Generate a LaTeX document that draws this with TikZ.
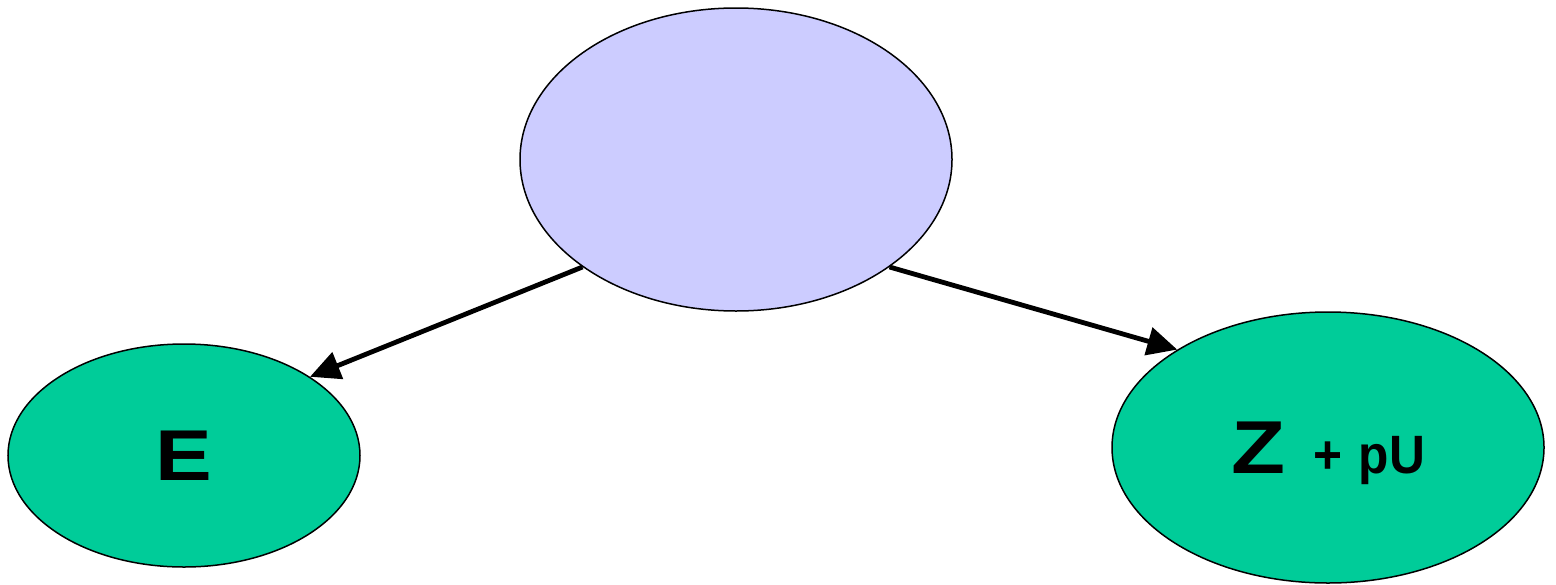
\documentclass[tikz,border=0pt]{standalone}
\usepackage{fontspec}
\usepackage{tikz}
\usetikzlibrary{arrows.meta,shapes.geometric}
\newfontfamily\diagfont[FakeStretch=1.18]{Liberation Sans}
\newfontfamily\subfont[FakeStretch=0.92]{Liberation Sans}
\definecolor{rootblue}{RGB}{204,204,255}
\definecolor{leafgreen}{RGB}{0,204,153}

\begin{document}
\begin{tikzpicture}[x=0.5pt,y=-0.5pt, every node/.style={font=\diagfont\bfseries},
    blob/.style={ellipse,draw=black,line width=0.75pt,inner sep=0pt},
    link/.style={-{Triangle[length=15pt,width=14pt]},line width=2.4pt}]
    \useasboundingbox (0,0) rectangle (1556,584);
    \node[blob,fill=rootblue,minimum width=216pt,minimum height=151.5pt] (root) at (736,159.5) {};
    \node[blob,fill=leafgreen,minimum width=176pt,minimum height=111.5pt] (e) at (184,455.5)
      {\fontsize{36}{36}\selectfont E};
    \node[blob,fill=leafgreen,minimum width=216pt,minimum height=135.5pt,text depth=0pt] (z) at (1328,447.5)
      {\fontsize{37.5}{38}\selectfont Z\hspace{0.38em}\subfont\bfseries\fontsize{27}{28}\selectfont +\hspace{0.3em}pU};
    \foreach \a/\b in {root.215/e.32,root.-35/z.147} \draw[link] (\a)--(\b);
  \end{tikzpicture}
\end{document}
